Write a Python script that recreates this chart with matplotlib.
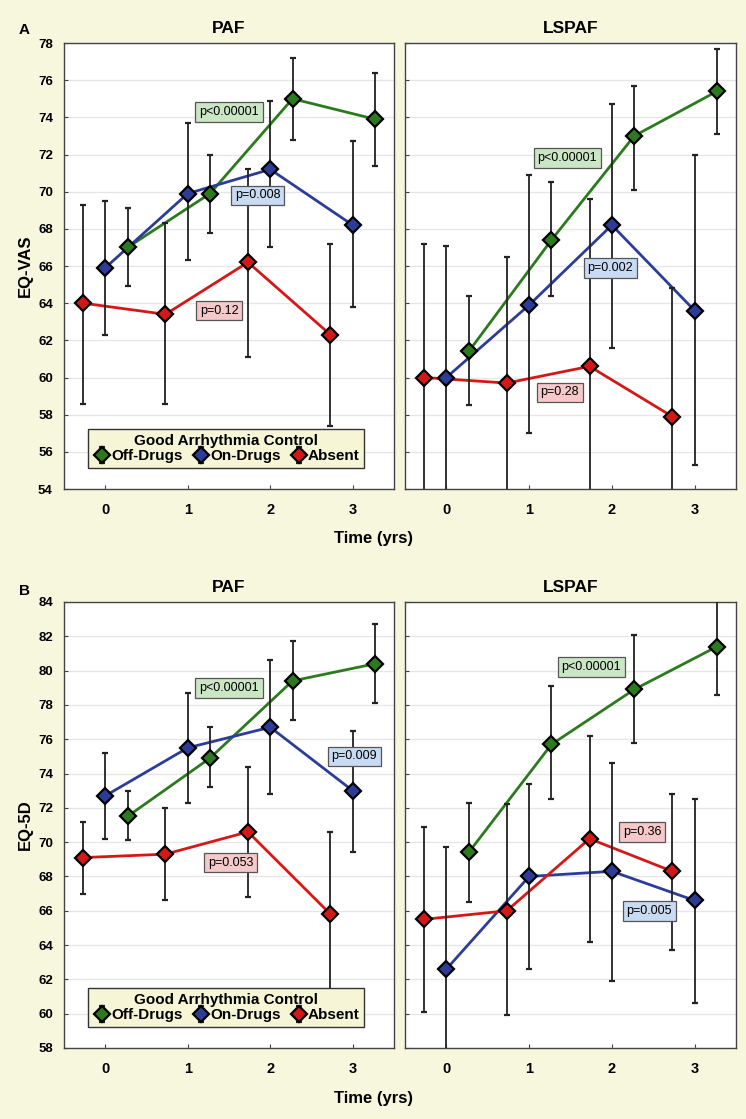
import matplotlib
matplotlib.use("Agg")
import matplotlib.pyplot as plt

plt.rcParams['font.family'] = ['Liberation Sans', 'DejaVu Sans']

years = [0, 1, 2, 3]
groups = ["Off-Drugs", "On-Drugs", "Absent"]

# EQ-VAS, PAF
vas_paf_mean = {"Off-Drugs": [67.0, 69.9, 75.0, 73.9],
                "On-Drugs": [65.9, 69.9, 71.2, 68.2],
                "Absent": [64.0, 63.4, 66.2, 62.3]}
vas_paf_low = {"Off-Drugs": [64.9, 67.8, 72.8, 71.4],
               "On-Drugs": [62.3, 66.3, 67.0, 63.8],
               "Absent": [58.6, 58.6, 61.1, 57.4]}
vas_paf_high = {"Off-Drugs": [69.1, 72.0, 77.2, 76.4],
                "On-Drugs": [69.5, 73.7, 74.9, 72.7],
                "Absent": [69.3, 68.3, 71.2, 67.2]}

# EQ-VAS, LSPAF
vas_lspaf_mean = {"Off-Drugs": [61.4, 67.4, 73.0, 75.4],
                  "On-Drugs": [60.0, 63.9, 68.2, 63.6],
                  "Absent": [60.0, 59.7, 60.6, 57.9]}
vas_lspaf_low = {"Off-Drugs": [58.5, 64.4, 70.1, 73.1],
                 "On-Drugs": [52.9, 57.0, 61.6, 55.3],
                 "Absent": [52.8, 52.9, 51.7, 51.0]}
vas_lspaf_high = {"Off-Drugs": [64.4, 70.5, 75.7, 77.7],
                  "On-Drugs": [67.1, 70.9, 74.7, 72.0],
                  "Absent": [67.2, 66.5, 69.6, 64.8]}

# EQ-5D, PAF
eq5d_paf_mean = {"Off-Drugs": [71.5, 74.9, 79.4, 80.4],
                 "On-Drugs": [72.7, 75.5, 76.7, 73.0],
                 "Absent": [69.1, 69.3, 70.6, 65.8]}
eq5d_paf_low = {"Off-Drugs": [70.1, 73.2, 77.1, 78.1],
                "On-Drugs": [70.2, 72.3, 72.8, 69.4],
                "Absent": [67.0, 66.6, 66.8, 60.9]}
eq5d_paf_high = {"Off-Drugs": [73.0, 76.7, 81.7, 82.7],
                 "On-Drugs": [75.2, 78.7, 80.6, 76.5],
                 "Absent": [71.2, 72.0, 74.4, 70.6]}

# EQ-5D, LSPAF
eq5d_lspaf_mean = {"Off-Drugs": [69.4, 75.7, 78.9, 81.4],
                   "On-Drugs": [62.6, 68.0, 68.3, 66.6],
                   "Absent": [65.5, 66.0, 70.2, 68.3]}
eq5d_lspaf_low = {"Off-Drugs": [66.5, 72.5, 75.8, 78.6],
                  "On-Drugs": [55.6, 62.6, 61.9, 60.6],
                  "Absent": [60.1, 59.9, 64.2, 63.7]}
eq5d_lspaf_high = {"Off-Drugs": [72.3, 79.1, 82.1, 84.6],
                   "On-Drugs": [69.7, 73.4, 74.6, 72.5],
                   "Absent": [70.9, 72.2, 76.2, 72.8]}

p_vas_paf = ["p<0.00001", "p=0.008", "p=0.12"]
p_vas_lspaf = ["p<0.00001", "p=0.002", "p=0.28"]
p_eq5d_paf = ["p<0.00001", "p=0.009", "p=0.053"]
p_eq5d_lspaf = ["p<0.00001", "p=0.005", "p=0.36"]

BG = '#F7F7DE'
line_colors = {"Off-Drugs": '#2C7A1E', "On-Drugs": '#2B3D98', "Absent": '#D41818'}
box_colors = {"Off-Drugs": '#CBE6C4', "On-Drugs": '#C9DBF2', "Absent": '#F5C9C9'}
offsets = {"Off-Drugs": 0.27, "On-Drugs": 0.0, "Absent": -0.27}

fig = plt.figure(figsize=(7.46, 11.19), dpi=100, facecolor=BG)

W, H = 746.0, 1119.0
def add_ax(x0, x1, y0, y1):
    return fig.add_axes([x0 / W, 1 - y1 / H, (x1 - x0) / W, (y1 - y0) / H])

panels = [
    # axes box, title, means, lows, highs, ylim, pvals, p positions, left panel?
    (add_ax(64, 394, 43, 489), "PAF", vas_paf_mean, vas_paf_low, vas_paf_high, (54, 78),
     p_vas_paf, [(1.50, 74.3), (1.85, 69.8), (1.38, 63.6)], True),
    (add_ax(405, 736, 43, 489), "LSPAF", vas_lspaf_mean, vas_lspaf_low, vas_lspaf_high, (54, 78),
     p_vas_lspaf, [(1.46, 71.8), (1.98, 65.9), (1.37, 59.2)], False),
    (add_ax(64, 394, 602, 1048), "PAF", eq5d_paf_mean, eq5d_paf_low, eq5d_paf_high, (58, 84),
     p_eq5d_paf, [(1.50, 79.0), (3.02, 75.0), (1.52, 68.8)], True),
    (add_ax(405, 736, 602, 1048), "LSPAF", eq5d_lspaf_mean, eq5d_lspaf_low, eq5d_lspaf_high, (58, 84),
     p_eq5d_lspaf, [(1.75, 80.2), (2.45, 66.0), (2.37, 70.6)], False),
]

for ax, title, means, lows, highs, ylim, pvals, ppos, left in panels:
    ax.set_facecolor('white')
    ax.set_xlim(-0.5, 3.5)
    ax.set_ylim(*ylim)
    ax.set_yticks(range(ylim[0], ylim[1] + 1, 2))
    ax.set_xticks(years)
    ax.grid(axis='y', color='#E6E6E6', lw=0.9)
    ax.set_axisbelow(True)
    for s in ax.spines.values():
        s.set_color('#444444')
        s.set_linewidth(1.0)
    ax.tick_params(direction='in', length=3, color='#444444', width=0.8)
    ax.tick_params(axis='y', labelsize=9.5, pad=8)
    ax.tick_params(axis='x', labelsize=10.5, pad=10)
    for lbl in ax.get_xticklabels() + ax.get_yticklabels():
        lbl.set_fontweight('bold')
    if not left:
        ax.set_yticklabels([])
    ax.set_title(title, fontsize=12.5, fontweight='bold', pad=7)

    handles = []
    for g in groups:
        xs = [y + offsets[g] for y in years]
        m = means[g]
        err = [[mi - lo for mi, lo in zip(m, lows[g])], [hi - mi for mi, hi in zip(m, highs[g])]]
        ax.plot(xs, m, color=line_colors[g], lw=2.0, zorder=2)
        eb = ax.errorbar(xs, m, yerr=err, fmt='D', ms=8.5, mfc=line_colors[g], mec='black',
                         mew=1.6, ecolor='#222222', elinewidth=1.3, capsize=2.2,
                         capthick=1.3, zorder=3)
        handles.append(eb)

    for (px, py), txt, g in zip(ppos, pvals, groups):
        ax.text(px, py, txt, fontsize=9, ha='center', va='center', zorder=5,
                bbox=dict(boxstyle='square,pad=0.3', fc=box_colors[g], ec='#555555', lw=0.9))

    if left:
        leg = ax.legend(handles, groups, title="Good Arrhythmia Control", ncol=3,
                        loc='lower left', bbox_to_anchor=(0.05, 0.03),
                        title_fontproperties={'weight': 'bold', 'size': 11},
                        prop={'weight': 'bold', 'size': 11},
                        handletextpad=0.0, columnspacing=0.6, handlelength=1.2,
                        borderpad=0.3, labelspacing=0.1, fancybox=False,
                        framealpha=1, facecolor='#F6F5D6', edgecolor='#333333')
        leg.set_zorder(10)
        leg.get_frame().set_linewidth(1.0)

fig.text(373 / W, 1 - 538 / H, "Time (yrs)", ha='center', va='center', fontsize=12, fontweight='bold')
fig.text(373 / W, 1 - 1098 / H, "Time (yrs)", ha='center', va='center', fontsize=12, fontweight='bold')
fig.text(25 / W, 1 - 266 / H, "EQ-VAS", rotation=90, ha='center', va='center', fontsize=12, fontweight='bold')
fig.text(25 / W, 1 - 825 / H, "EQ-5D", rotation=90, ha='center', va='center', fontsize=12, fontweight='bold')
fig.text(24 / W, 1 - 30 / H, "A", ha='center', va='center', fontsize=11, fontweight='bold')
fig.text(24 / W, 1 - 591 / H, "B", ha='center', va='center', fontsize=11, fontweight='bold')

fig.savefig('out.png', dpi=100, facecolor=BG)
